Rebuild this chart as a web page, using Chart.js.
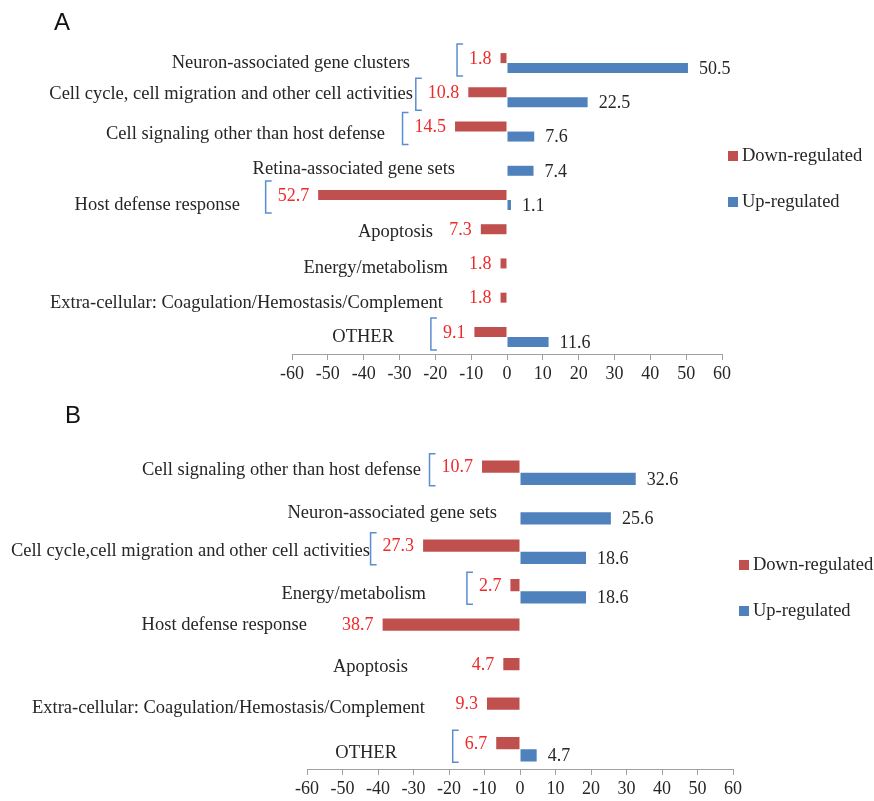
<!DOCTYPE html>
<html>
<head>
<meta charset="utf-8">
<script src="https://cdn.jsdelivr.net/npm/chart.js@4"></script>
<style>
  body { margin: 0; background: #fff; width: 874px; height: 801px; position: relative; overflow: hidden; }
  canvas { position: absolute; left: 0; }
</style>
</head>
<body>
<canvas id="chartA" width="874" height="400" style="top:0"></canvas>
<canvas id="chartB" width="874" height="401" style="top:400px"></canvas>
<script>
// ---- data, panel A
const catsA = ['Neuron-associated gene clusters', 'Cell cycle, cell migration and other cell activities',
  'Cell signaling other than host defense', 'Retina-associated gene sets', 'Host defense response',
  'Apoptosis', 'Energy/metabolism', 'Extra-cellular: Coagulation/Hemostasis/Complement', 'OTHER'];
const downA = [1.8, 10.8, 14.5, null, 52.7, 7.3, 1.8, 1.8, 9.1];
const upA   = [50.5, 22.5, 7.6, 7.4, 1.1, null, null, null, 11.6];

// ---- data, panel B
const catsB = ['Cell signaling other than host defense', 'Neuron-associated gene sets',
  'Cell cycle,cell migration and other cell activities', 'Energy/metabolism', 'Host defense response',
  'Apoptosis', 'Extra-cellular: Coagulation/Hemostasis/Complement', 'OTHER'];
const downB = [10.7, null, 27.3, 2.7, 38.7, 4.7, 9.3, 6.7];
const upB   = [32.6, 25.6, 18.6, 18.6, null, null, null, 4.7];

const tickValues = [-60, -50, -40, -30, -20, -10, 0, 10, 20, 30, 40, 50, 60];
const seriesNames = ['Down-regulated', 'Up-regulated'];

// label placement (right edge x in px, y nudge) - hand placed in the original too
const labelRightA = [410, 413, 385, 455, 240, 433, 448, 443, 394];
const labelDyA    = [0, -3, 3, 3, 5, -2, 0, 0, 0];
const labelRightB = [421, 497, 370, 426, 307, 408, 425, 397];
const labelDyB    = [-3, 1, -1, 3, -6, -3, -2, 4];

const RED = '#C0504D', BLUE = '#4F81BD';
const SERIF = '"Liberation Serif", "Times New Roman", serif';

const annot = {
  id: 'annot',
  afterDatasetsDraw(chart, args, o) {
    const ctx = chart.ctx;
    const ys = chart.scales.y;
    const red = chart.getDatasetMeta(0).data;
    const blue = chart.getDatasetMeta(1).data;
    ctx.save();
    ctx.textBaseline = 'middle';
    o.cats.forEach((c, i) => {
      const cy = ys.getPixelForValue(i);
      ctx.font = '18.5px ' + SERIF;
      ctx.fillStyle = '#262626';
      ctx.textAlign = 'right';
      ctx.fillText(c, o.labelRight[i], cy + o.labelDy[i]);
      ctx.font = '18px ' + SERIF;
      if (o.down[i] != null) {
        const s = o.down[i].toFixed(1);
        const tx = red[i].x - 9;
        ctx.fillStyle = '#EE2A2A';
        ctx.textAlign = 'right';
        ctx.fillText(s, tx, red[i].y + 1);
        if (o.up[i] != null) {
          // bracket
          const left = tx - ctx.measureText(s).width - 12;
          const top = cy - 19, bot = cy + 13;
          ctx.strokeStyle = '#5B8DD3';
          ctx.lineWidth = 1.5;
          ctx.beginPath();
          ctx.moveTo(left + 6, top); ctx.lineTo(left, top);
          ctx.lineTo(left, bot); ctx.lineTo(left + 6, bot);
          ctx.stroke();
        }
      }
      if (o.up[i] != null) {
        ctx.fillStyle = '#262626';
        ctx.textAlign = 'left';
        ctx.fillText(o.up[i].toFixed(1), blue[i].x + 11, blue[i].y + 1);
      }
    });
    // legend
    const L = o.legend;
    ctx.font = '18.5px ' + SERIF;
    [RED, BLUE].forEach((col, k) => {
      const yy = k === 0 ? L.y1 : L.y2;
      ctx.fillStyle = col;
      ctx.fillRect(L.x, yy - 5, 10, 10);
      ctx.fillStyle = '#262626';
      ctx.textAlign = 'left';
      ctx.fillText(seriesNames[k], L.x + 14, yy);
    });
    // panel letter
    ctx.font = '24px "Liberation Sans", sans-serif';
    ctx.fillStyle = '#111';
    ctx.textBaseline = 'alphabetic';
    ctx.fillText(o.tag, o.tagX, o.tagY);
    ctx.restore();
  }
};

function makeChart(id, cats, down, up, cfg) {
  return new Chart(document.getElementById(id), {
    type: 'bar',
    data: {
      labels: cats,
      datasets: [
        { label: seriesNames[0], data: down.map(v => v == null ? null : -v), backgroundColor: RED },
        { label: seriesNames[1], data: up, backgroundColor: BLUE }
      ]
    },
    options: {
      indexAxis: 'y',
      responsive: false,
      animation: false,
      events: [],
      categoryPercentage: cfg.catPct,
      barPercentage: 1,
      layout: { padding: { left: cfg.left, right: cfg.right, top: cfg.top, bottom: 0 } },
      scales: {
        x: {
          min: -60, max: 60,
          afterBuildTicks: s => { s.ticks = tickValues.map(v => ({ value: v })); },
          afterFit: s => { s.height = cfg.axisH; },
          grid: { drawOnChartArea: false, drawTicks: true, tickLength: 6, color: '#A0A0A0' },
          border: { display: true, color: '#A0A0A0', width: 1 },
          ticks: { font: { family: SERIF, size: 18 }, color: '#262626', padding: 3, maxRotation: 0, autoSkip: false }
        },
        y: { display: false }
      },
      plugins: {
        legend: { display: false },
        tooltip: { enabled: false },
        annot: {
          cats, down, up,
          labelRight: cfg.labelRight, labelDy: cfg.labelDy,
          legend: cfg.legend, tag: cfg.tag, tagX: cfg.tagX, tagY: cfg.tagY
        }
      }
    },
    plugins: [annot]
  });
}

makeChart('chartA', catsA, downA, upA, {
  left: 292, right: 152, top: 46, axisH: 46, catPct: 0.585,
  labelRight: labelRightA, labelDy: labelDyA,
  legend: { x: 728, y1: 156, y2: 202 }, tag: 'A', tagX: 54, tagY: 30
});
makeChart('chartB', catsB, downB, upB, {
  left: 307, right: 141, top: 53, axisH: 32, catPct: 0.62,
  labelRight: labelRightB, labelDy: labelDyB,
  legend: { x: 739, y1: 165, y2: 211 }, tag: 'B', tagX: 65, tagY: 23
});
</script>
</body>
</html>
